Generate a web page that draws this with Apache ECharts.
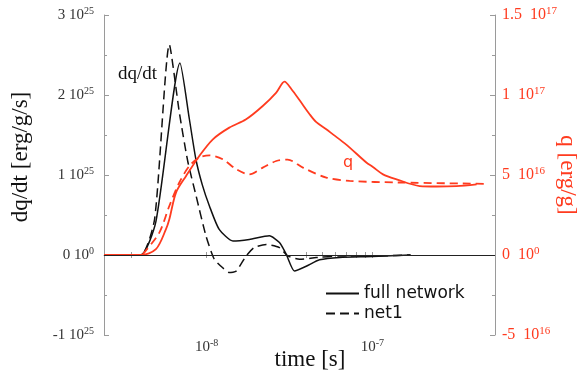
<!DOCTYPE html>
<html>
<head>
<meta charset="utf-8">
<script src="https://cdn.jsdelivr.net/npm/echarts@6/dist/echarts.min.js"></script>
<style>
  html, body { margin: 0; padding: 0; background: #fff; }
  #chart { width: 578px; height: 388px; }
</style>
</head>
<body>
<div id="chart"></div>
<script>
// Energy generation rate dq/dt (left axis) and integrated energy q (right axis)
// versus time, for the full reaction network and the reduced net1 network.

// dq/dt, full network  [s], [erg/g/s]
const tRateFull = [2.4e-9, 4.0e-9, 4.94e-9, 6.9e-9, 7.86e-9, 8.6e-9, 9.4e-9, 1.04e-8, 1.19e-8,
  1.44e-8, 1.81e-8, 2.39e-8, 2.75e-8, 3.02e-8, 3.39e-8, 3.99e-8, 4.8e-8, 6.35e-8, 1.0e-7, 1.7e-7];
const rateFull = [0, 0, 4.2e24, 2.40e25, 1.70e25, 1.20e25, 8.8e24, 6.1e24, 3.2e24,
  1.75e24, 1.95e24, 2.4e24, 1.55e24, 1.0e23, -2.0e24, -1.4e24, -6.0e23, -3.0e23, -2.0e23, 0];

// dq/dt, net1  [s], [erg/g/s]
const tRateNet1 = [2.4e-9, 4.0e-9, 4.85e-9, 5.95e-9, 6.84e-9, 7.68e-9, 8.63e-9, 9.9e-9, 1.11e-8,
  1.25e-8, 1.37e-8, 1.51e-8, 1.73e-8, 1.94e-8, 2.29e-8, 2.75e-8, 3.09e-8, 3.64e-8, 4.59e-8,
  6.35e-8, 1.16e-7, 1.7e-7];
const rateNet1 = [0, 0, 4.5e24, 2.63e25, 1.78e25, 1.175e25, 7.4e24, 2.4e24, -5.0e23,
  -1.6e24, -2.2e24, -2.0e24, -1.2e23, 9.5e23, 1.3e24, 9.2e23, -1.2e23, -5.4e23, -3.2e23,
  -1.2e23, -1.0e23, 0];

// q, full network  [s], [erg/g]
const tQFull = [2.4e-9, 4.0e-9, 4.94e-9, 5.68e-9, 5.95e-9, 6.53e-9, 7.51e-9, 9.03e-9, 1.09e-8,
  1.37e-8, 1.73e-8, 2.18e-8, 2.63e-8, 2.95e-8, 3.25e-8, 3.64e-8, 4.18e-8, 4.59e-8,
  5.27e-8, 5.78e-8, 6.96e-8, 9.2e-8, 1.008e-7, 1.16e-7, 1.40e-7, 1.93e-7, 2.44e-7,
  3.22e-7, 4.26e-7];
const qFull = [0, 0, 3.6e15, 1.61e16, 2.23e16, 3.9e16, 4.94e16, 6.19e16, 7.23e16,
  7.96e16, 8.48e16, 9.31e16, 1.015e17, 1.083e17, 1.036e17, 9.67e16, 8.8e16, 8.3e16,
  7.86e16, 7.54e16, 6.9e16, 5.78e16, 5.5e16, 5.04e16, 4.73e16, 4.31e16, 4.28e16,
  4.31e16, 4.42e16];

// q, net1  [s], [erg/g]
const tQNet1 = [2.4e-9, 4.0e-9, 4.3e-9, 5.18e-9, 5.95e-9, 6.84e-9, 7.86e-9, 9.03e-9, 1.04e-8,
  1.25e-8, 1.51e-8, 1.81e-8, 2.18e-8, 2.63e-8, 3.08e-8, 3.81e-8, 5.27e-8, 7.29e-8, 1.46e-7,
  4.78e-7];
const qNet1 = [0, 0, 2.9e15, 1.4e16, 3.06e16, 4.53e16, 5.56e16, 6.09e16, 6.23e16,
  5.98e16, 5.36e16, 5.04e16, 5.46e16, 5.875e16, 5.96e16, 5.46e16, 4.84e16, 4.63e16, 4.53e16,
  4.45e16];

// tick labels: mantissa and power of ten
const rateTickMant = ['-1', '0', '1', '2', '3'];
const rateTickExp  = ['25', '0', '25', '25', '25'];
const qTickMant = ['-5', '0', '5', '1', '1.5'];
const qTickExp  = ['16', '0', '16', '17', '17'];
const timeLabelValues = [1e-8, 1e-7];
const timeTickValues = [3.5e-9, 1e-8, 4e-8, 5e-8, 6e-8, 7e-8, 8e-8, 9e-8, 1e-7];

const SERIF = '"Liberation Serif", "Times New Roman", serif';
const SANS = '"DejaVu Sans", sans-serif';
const RED = '#ff3b1f';
const BLACK = '#111';
const FRAME = '#9a9a9a';

const pairs = (xs, ys) => xs.map((x, i) => [x, ys[i]]);

function supRich(color, base, sup) {
  return {
    n: { fontFamily: SERIF, fontSize: base, color: color, lineHeight: 18 },
    s: { fontFamily: SERIF, fontSize: sup, color: color, lineHeight: 11, verticalAlign: 'top' }
  };
}

const chart = echarts.init(document.getElementById('chart'), null, { renderer: 'canvas' });

const timeAxisBase = {
  type: 'log',
  logBase: 10,
  min: 2.4e-9,
  max: 5.5e-7,
  splitLine: { show: false },
  axisTick: { show: true, inside: true, length: 3, customValues: timeTickValues,
              lineStyle: { color: FRAME, width: 1 } }
};

chart.setOption({
  animation: false,
  backgroundColor: '#fff',
  grid: { left: 104, right: 83, top: 15, bottom: 53, containLabel: false },
  xAxis: [
    Object.assign({}, timeAxisBase, {
      position: 'bottom',
      axisLine: { show: false },
      axisLabel: {
        customValues: timeLabelValues,
        margin: 3,
        formatter: v => '{n|10}{s|' + Math.round(Math.log10(v)) + '}',
        rich: supRich('#333', 15, 10)
      }
    }),
    Object.assign({}, timeAxisBase, {
      position: 'top',
      axisLine: { show: true, lineStyle: { color: FRAME, width: 1 } },
      axisLabel: { show: false }
    })
  ],
  yAxis: [
    {
      type: 'value', position: 'left',
      min: -1e25, max: 3e25, interval: 1e25,
      splitLine: { show: false },
      axisLine: { show: true, lineStyle: { color: FRAME, width: 1 } },
      axisTick: { show: true, inside: true, length: 5, lineStyle: { color: FRAME } },
      minorTick: { show: true, splitNumber: 2, length: 3, lineStyle: { color: FRAME } },
      axisLabel: {
        margin: 10,
        formatter: (v, i) => '{n|' + rateTickMant[i] + ' 10}{s|' + rateTickExp[i] + '}',
        rich: supRich('#333', 15, 10)
      }
    },
    {
      type: 'value', position: 'right',
      min: -5e16, max: 1.5e17, interval: 5e16,
      splitLine: { show: false },
      axisLine: { show: true, lineStyle: { color: FRAME, width: 1 } },
      axisTick: { show: true, inside: true, length: 5, lineStyle: { color: FRAME } },
      minorTick: { show: true, splitNumber: 2, length: 3, lineStyle: { color: FRAME } },
      axisLabel: {
        margin: 7,
        formatter: (v, i) => '{n|' + qTickMant[i] + '  10}{s|' + qTickExp[i] + '}',
        rich: supRich(RED, 16, 11)
      }
    }
  ],
  legend: {
    data: ['full network', 'net1'],
    orient: 'vertical',
    left: 320, top: 280,
    itemWidth: 33, itemHeight: 12, itemGap: 3,
    itemStyle: { opacity: 0 },
    textStyle: { fontFamily: SANS, fontSize: 17, color: BLACK, lineHeight: 17 }
  },
  series: [
    {
      name: 'full network', type: 'line', xAxisIndex: 0, yAxisIndex: 0,
      data: pairs(tRateFull, rateFull),
      showSymbol: false, symbol: 'none', smooth: 0.2,
      lineStyle: { color: BLACK, width: 1.5, type: 'solid' },
      itemStyle: { color: BLACK },
      markLine: {
        silent: true, symbol: 'none', label: { show: false },
        lineStyle: { color: '#222', width: 1, type: 'solid' },
        data: [{ yAxis: 0 }]
      }
    },
    {
      name: 'net1', type: 'line', xAxisIndex: 0, yAxisIndex: 0,
      data: pairs(tRateNet1, rateNet1),
      showSymbol: false, symbol: 'none', smooth: 0.2,
      lineStyle: { color: BLACK, width: 1.5, type: [9, 5] },
      itemStyle: { color: BLACK }
    },
    {
      name: 'q (full network)', type: 'line', xAxisIndex: 0, yAxisIndex: 1,
      data: pairs(tQFull, qFull),
      showSymbol: false, symbol: 'none', smooth: 0.3,
      lineStyle: { color: RED, width: 1.8, type: 'solid' },
      itemStyle: { color: RED }
    },
    {
      name: 'q (net1)', type: 'line', xAxisIndex: 0, yAxisIndex: 1,
      data: pairs(tQNet1, qNet1),
      showSymbol: false, symbol: 'none', smooth: 0.3,
      lineStyle: { color: RED, width: 1.8, type: [8, 5] },
      itemStyle: { color: RED }
    }
  ],
  graphic: [
    { type: 'text', x: 21, y: 157, rotation: Math.PI / 2,
      style: { text: 'dq/dt [erg/g/s]', font: '23px ' + SERIF, fill: BLACK,
               align: 'center', verticalAlign: 'middle', textAlign: 'center', textVerticalAlign: 'middle' } },
    { type: 'text', x: 567, y: 175, rotation: -Math.PI / 2,
      style: { text: 'q [erg/g]', font: '23px ' + SERIF, fill: RED,
               align: 'center', verticalAlign: 'middle', textAlign: 'center', textVerticalAlign: 'middle' } },
    { type: 'text', x: 310, y: 360,
      style: { text: 'time [s]', font: '23px ' + SERIF, fill: BLACK,
               align: 'center', verticalAlign: 'middle', textAlign: 'center', textVerticalAlign: 'middle' } },
    { type: 'text', x: 118, y: 74,
      style: { text: 'dq/dt', font: '19px ' + SERIF, fill: BLACK,
               align: 'left', verticalAlign: 'middle', textAlign: 'left', textVerticalAlign: 'middle' } },
    { type: 'text', x: 348, y: 163,
      style: { text: 'q', font: '16px ' + SANS, fill: RED,
               align: 'center', verticalAlign: 'middle', textAlign: 'center', textVerticalAlign: 'middle' } }
  ]
});
</script>
</body>
</html>
